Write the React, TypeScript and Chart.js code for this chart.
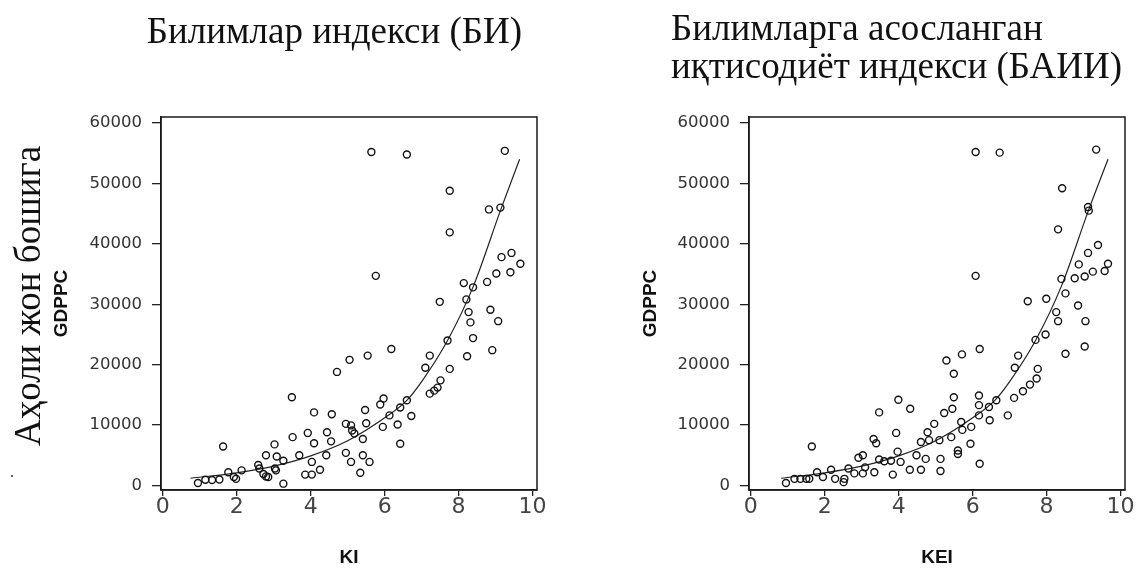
import React, { useEffect, useRef } from "react";
import { Chart, registerables } from "chart.js";

Chart.register(...registerables);

// ---- Data ----
const KI_X = [
  0.95, 1.15, 1.33, 1.53, 1.63, 1.77, 1.92, 1.98, 2.13, 2.58,
  2.61, 2.72, 2.79, 2.85, 2.79, 3.02, 3.03, 3.06, 3.08, 3.26,
  3.26, 3.51, 3.49, 3.69, 3.92, 4.03, 3.85, 4.03, 4.25, 4.09,
  4.09, 4.44, 4.42, 4.57, 4.55, 4.71, 4.95, 4.95, 5.09, 5.12,
  5.09, 5.05, 5.54, 6.18, 7.49, 8.14, 8.39, 8.77, 8.21, 8.27,
  8.32, 8.86, 9.07, 8.39, 8.91, 8.23, 7.7, 7.22, 7.1, 7.76,
  7.22, 7.34, 7.43, 7.51, 5.97, 5.88, 5.47, 6.6, 6.42, 6.13,
  6.72, 6.35, 5.95, 5.5, 5.41, 5.18, 6.42, 5.41, 5.59, 5.34,
  5.64, 6.6, 9.25, 7.76, 7.76, 8.82, 9.13, 5.76, 9.16, 9.43,
  9.67, 9.02, 9.4,
];
const KI_GDPPC = [
  400, 950, 900, 1000, 6450, 2200, 1400, 1100, 2500, 3400,
  2800, 1900, 1500, 1400, 5000, 6800, 2800, 2500, 4800, 4100,
  300, 8000, 14600, 5000, 8700, 3900, 1800, 1800, 2600, 12100,
  7000, 8800, 5000, 11800, 7300, 18800, 10200, 5400, 9950, 9100,
  3900, 20800, 21500, 22600, 30400, 33500, 32800, 33700, 30800, 28700,
  27000, 29100, 27200, 24400, 22400, 21400, 24000, 21500, 19500, 19300,
  15200, 15700, 16200, 17400, 14400, 13400, 12500, 14100, 12900, 11600,
  11500, 10100, 9700, 10300, 7700, 8600, 6900, 5000, 3900, 2100,
  55200, 54800, 55400, 48800, 41900, 45700, 46000, 34700, 37800, 38500,
  36700, 35100, 35300,
];

const KEI_X = [
  0.95, 1.18, 1.34, 1.5, 1.58, 1.65, 1.79, 1.95, 2.17, 2.28,
  2.51, 2.53, 2.64, 2.8, 2.91, 3.03, 3.03, 3.09, 3.34, 3.32,
  3.39, 3.47, 3.47, 3.61, 3.84, 3.79, 3.93, 3.99, 3.97, 4.05,
  4.31, 4.3, 4.48, 4.6, 4.6, 4.78, 4.73, 4.82, 4.96, 5.13,
  5.13, 5.1, 5.23, 5.29, 5.71, 6.19, 5.49, 5.49, 5.45, 5.69,
  5.72, 5.42, 5.6, 5.6, 5.96, 5.94, 6.17, 6.17, 6.17, 6.19,
  6.44, 6.46, 6.64, 6.95, 7.14, 7.23, 7.12, 7.36, 7.55, 7.73,
  7.76, 7.49, 7.99, 7.7, 7.97, 8.26, 8.31, 8.51, 8.85, 9.05,
  8.51, 9.03, 8.4, 8.76, 8.87, 6.08, 6.73, 9.34, 8.42, 8.31,
  9.12, 9.14, 6.08, 9.12, 9.39, 9.66, 9.57, 9.25, 9.03,
];
const KEI_GDPPC = [
  400, 1100, 1100, 1100, 1100, 6450, 2200, 1400, 2600, 1100,
  550, 1100, 2800, 2000, 4600, 5000, 2000, 3000, 2200, 7700,
  7000, 12100, 4300, 4000, 1800, 4100, 8700, 14200, 5600, 3900,
  12700, 2600, 5000, 2600, 7200, 8800, 4400, 7500, 10200, 4400,
  2400, 7500, 12000, 20700, 21700, 22600, 18500, 14600, 12700, 10500,
  9200, 8000, 5200, 5800, 9700, 6900, 14900, 13300, 11600, 3600,
  13000, 10800, 14100, 11600, 19500, 21500, 14500, 15600, 16700, 17700,
  19300, 30500, 30900, 24100, 25000, 28700, 27200, 31800, 29800, 27200,
  21800, 23000, 34200, 34300, 36600, 55200, 55100, 55600, 49200, 42400,
  46100, 45500, 34700, 38500, 39800, 36700, 35500, 35400, 34600,
];

const KI_TREND_X = [0.75, 2, 3, 4, 5, 6, 6.6, 7, 7.7, 8.4, 9.13, 9.65];
const KI_TREND_Y = [1200, 2100, 3200, 4900, 7400, 11200, 14100, 17200, 24000, 33000, 45500, 54000];
const KEI_TREND_X = [0.82, 2, 3, 4, 5, 6, 6.6, 7, 7.7, 8.4, 9.13, 9.66];
const KEI_TREND_Y = [1200, 2100, 3200, 4900, 7400, 11200, 14100, 17200, 24000, 33000, 45500, 54000];

const Y_TICKS = [0, 10000, 20000, 30000, 40000, 50000, 60000];
const X_TICKS = [0, 2, 4, 6, 8, 10];

const TITLE_LEFT = "Билимлар индекси (БИ)";
const TITLE_RIGHT_1 = "Билимларга асосланган";
const TITLE_RIGHT_2 = "иқтисодиёт индекси (БАИИ)";
const SIDE_LABEL = "Аҳоли жон бошига";

type PanelProps = {
  xs: number[];
  ys: number[];
  tx: number[];
  ty: number[];
  xTitle: string;
  left: number;
  width: number;
  yAxisWidth: number;
  rightPad: number;
  yTitlePad: number;
};

function Panel(p: PanelProps) {
  const ref = useRef<HTMLCanvasElement | null>(null);
  useEffect(() => {
    if (!ref.current) return;
    const pts = p.xs.map((x, i) => ({ x, y: p.ys[i] }));
    const trend = p.tx.map((x, i) => ({ x, y: p.ty[i] }));
    const frame = {
      id: "frame",
      afterDatasetsDraw(chart: any) {
        const { ctx, chartArea: a } = chart;
        ctx.save();
        ctx.strokeStyle = "#1a1a1a";
        ctx.lineWidth = 1.5;
        ctx.strokeRect(a.left, a.top, a.right - a.left, a.bottom - a.top);
        ctx.restore();
      },
    };
    const chart = new Chart(ref.current, {
      type: "scatter",
      data: {
        datasets: [
          {
            data: pts,
            pointStyle: "circle",
            pointRadius: 3.5,
            pointHoverRadius: 3.5,
            borderColor: "#111",
            borderWidth: 1.4,
            backgroundColor: "rgba(0,0,0,0)",
          },
          {
            type: "line",
            data: trend,
            showLine: true,
            borderColor: "#222",
            borderWidth: 1.2,
            pointRadius: 0,
            cubicInterpolationMode: "monotone",
            fill: false,
          } as any,
        ],
      },
      options: {
        responsive: false,
        animation: false,
        events: [],
        layout: { padding: { top: 117, left: 0, right: p.rightPad, bottom: 0 } },
        plugins: { legend: { display: false }, tooltip: { enabled: false } },
        scales: {
          x: {
            type: "linear",
            min: -0.05,
            max: 10.12,
            afterBuildTicks: (s: any) => {
              s.ticks = X_TICKS.map((v) => ({ value: v }));
            },
            afterFit: (s: any) => {
              s.height = 79;
            },
            grid: { drawOnChartArea: false, tickLength: 6, color: "#222", lineWidth: 1.3 },
            border: { display: true, color: "#1a1a1a", width: 1.5 },
            ticks: {
              callback: (v: any) => String(v),
              font: { family: "DejaVu Sans", size: 22, lineHeight: 1 },
              color: "#444",
              padding: 0,
              maxRotation: 0,
              autoSkip: false,
            },
            title: {
              display: true,
              text: p.xTitle,
              font: { family: "Liberation Sans", size: 19, weight: "bold" },
              color: "#111",
              padding: { top: 0, bottom: 0 },
            },
          },
          y: {
            type: "linear",
            min: -750,
            max: 61000,
            afterBuildTicks: (s: any) => {
              s.ticks = Y_TICKS.map((v) => ({ value: v }));
            },
            afterFit: (s: any) => {
              s.width = p.yAxisWidth;
            },
            grid: { drawOnChartArea: false, tickLength: 9, color: "#222", lineWidth: 1.3 },
            border: { display: true, color: "#1a1a1a", width: 1.5 },
            ticks: {
              callback: (v: any) => String(v),
              font: { family: "DejaVu Sans", size: 16.5 },
              color: "#333",
              padding: 10,
              autoSkip: false,
            },
            title: {
              display: true,
              text: "GDPPC",
              font: { family: "Liberation Sans", size: 19, weight: "bold" },
              color: "#111",
              padding: { top: p.yTitlePad, bottom: 0 },
            },
          },
        },
      },
      plugins: [frame],
    } as any);
    return () => chart.destroy();
  }, []);
  return (
    <canvas
      ref={ref}
      width={p.width}
      height={569}
      style={{ position: "absolute", left: p.left, top: 0, width: p.width, height: 569 }}
    />
  );
}

const serif = '"Liberation Serif", "Times New Roman", serif';

export default function App() {
  return (
    <div
      style={{
        position: "fixed",
        left: 0,
        top: 0,
        width: 1137,
        height: 569,
        overflow: "hidden",
        background: "#fff",
      }}
    >
      <Panel
        xs={KI_X}
        ys={KI_GDPPC}
        tx={KI_TREND_X}
        ty={KI_TREND_Y}
        xTitle="KI"
        left={0}
        width={568}
        yAxisWidth={161}
        rightPad={31}
        yTitlePad={50.6}
      />
      <Panel
        xs={KEI_X}
        ys={KEI_GDPPC}
        tx={KEI_TREND_X}
        ty={KEI_TREND_Y}
        xTitle="KEI"
        left={570}
        width={567}
        yAxisWidth={179}
        rightPad={12}
        yTitlePad={69.6}
      />
      <div
        style={{
          position: "absolute",
          left: 0,
          top: 11,
          width: 669,
          textAlign: "center",
          fontFamily: serif,
          fontSize: 37,
          lineHeight: "40px",
          whiteSpace: "nowrap",
          color: "#111",
        }}
      >
        {TITLE_LEFT}
      </div>
      <div
        style={{
          position: "absolute",
          left: 671,
          top: 8.5,
          fontFamily: serif,
          fontSize: 37,
          lineHeight: "38px",
          whiteSpace: "nowrap",
          color: "#111",
        }}
      >
        <div>{TITLE_RIGHT_1}</div>
        <div>{TITLE_RIGHT_2}</div>
      </div>
      <div
        style={{
          position: "absolute",
          left: -172,
          top: 275.5,
          width: 400,
          height: 40,
          lineHeight: "40px",
          textAlign: "center",
          fontFamily: serif,
          fontSize: 37,
          whiteSpace: "nowrap",
          color: "#111",
          transform: "rotate(-90deg)",
          transformOrigin: "50% 50%",
        }}
      >
        {SIDE_LABEL}
      </div>
      <div
        style={{
          position: "absolute",
          left: 10,
          top: 462,
          fontFamily: serif,
          fontSize: 16,
          lineHeight: "20px",
          color: "#333",
        }}
      >
        .
      </div>
    </div>
  );
}
